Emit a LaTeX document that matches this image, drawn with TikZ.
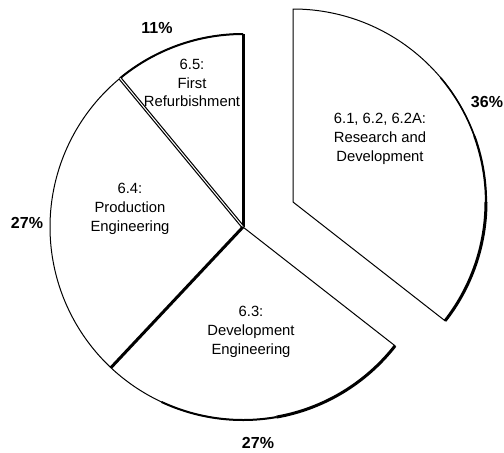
\documentclass[tikz,border=0pt]{standalone}
\usepackage{fontspec}
\setmainfont{Liberation Sans}
\begin{document}
\begin{tikzpicture}[x=0.5pt, y=0.5pt, line join=round,
    lab/.style={align=center, font=\fontsize{7.4}{9.4}\selectfont},
    pct/.style={font=\fontsize{8}{9.5}\selectfont\bfseries}]
    \useasboundingbox (0, 0) rectangle (504, 452);
    \def\R{193}
    \coordinate (C) at (243, 225);
    \coordinate (E) at (293, 250);
    % pulled-out slice
    \draw[line width=0.5pt] (E) -- ++(-38:\R) arc[start angle=-38, end angle=90, radius=\R] -- cycle;
    \draw[line width=1.5pt] (E) ++(-38:\R) arc[start angle=-38, end angle=0, radius=\R];
    \draw[line width=1.1pt] (E) ++(0:\R) arc[start angle=0, end angle=20, radius=\R];
    \draw[line width=0.8pt] (E) ++(20:\R) arc[start angle=20, end angle=40, radius=\R];
    % rest of the pie
    \draw[line width=0.5pt] (C) -- ++(90:\R) arc[start angle=90, end angle=129.6, radius=\R] -- cycle;
    \draw[line width=0.5pt] (C) -- ++(129.6:\R) arc[start angle=129.6, end angle=226.8, radius=\R] -- cycle;
    \draw[line width=0.5pt] (C) -- ++(226.8:\R) arc[start angle=226.8, end angle=322, radius=\R] -- cycle;
    \draw[line width=1.5pt] (C) -- ++(90:\R);
    \draw[line width=1pt] (C) ++(90:\R) arc[start angle=90, end angle=129.6, radius=\R];
    \draw[double, line width=0.6pt, double distance=0.5pt] (C) -- ++(129.6:\R);
    \draw[line width=1.5pt] (C) -- ++(226.8:\R);
    \draw[line width=1pt] (C) ++(245:\R) arc[start angle=245, end angle=280, radius=\R];
    \draw[line width=1.5pt] (C) ++(280:\R) arc[start angle=280, end angle=322, radius=\R];
    % labels
    \node[lab] (n65) at (192, 369) {6.5:\\First\\Refurbishment};
    \node[lab] (n64) at (130, 243) {6.4:\\Production\\Engineering};
    \node[lab] (n63) at (251, 120) {6.3:\\Development\\Engineering};
    \node[lab] (n61) at (380, 313) {6.1, 6.2, 6.2A:\\Research and\\Development};
    \node[pct] (p65) at (157, 424) {11\%};
    \node[pct] (p61) at (487, 350) {36\%};
    \node[pct] (p64) at (27, 229) {27\%};
    \node[pct] (p63) at (258, 9) {27\%};
\end{tikzpicture}
\end{document}
